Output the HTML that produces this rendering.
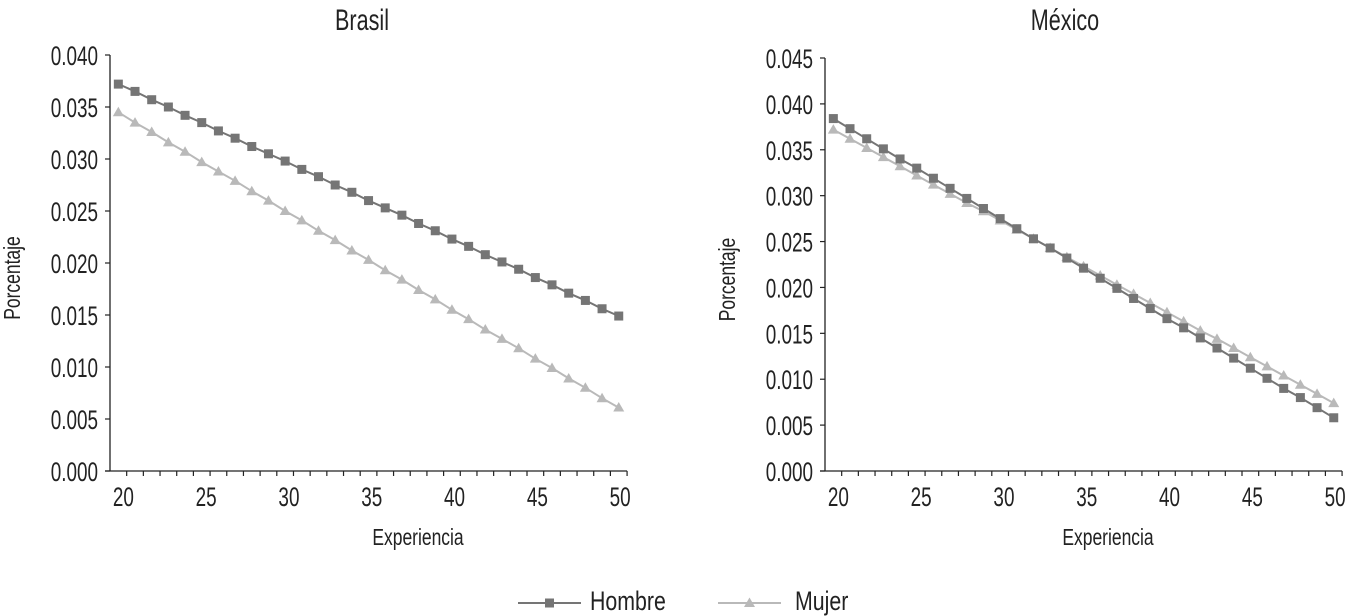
<!DOCTYPE html>
<html><head><meta charset="utf-8">
<style>
html,body{margin:0;padding:0;background:#fff;}
svg{display:block;font-family:"Liberation Sans",sans-serif;}
</style></head>
<body>
<svg id="c" width="1346" height="616" viewBox="0 0 1346 616" xmlns="http://www.w3.org/2000/svg"></svg>
<script>
const experiencia = [20,21,22,23,24,25,26,27,28,29,30,31,32,33,34,35,36,37,38,39,40,41,42,43,44,45,46,47,48,49,50];
const xTickLabels = [20,25,30,35,40,45,50];
const brasilTicks = [0,0.005,0.010,0.015,0.020,0.025,0.030,0.035,0.040];
const mexicoTicks = [0,0.005,0.010,0.015,0.020,0.025,0.030,0.035,0.040,0.045];
const brasilHombre = [0.0372,0.0365,0.0357,0.0350,0.0342,0.0335,0.0327,0.0320,0.0312,0.0305,0.0298,0.0290,0.0283,0.0275,0.0268,0.0260,0.0253,0.0246,0.0238,0.0231,0.0223,0.0216,0.0208,0.0201,0.0194,0.0186,0.0179,0.0171,0.0164,0.0156,0.0149];
const brasilMujer = [0.0345,0.0335,0.0326,0.0316,0.0307,0.0297,0.0288,0.0279,0.0269,0.0260,0.0250,0.0241,0.0231,0.0222,0.0212,0.0203,0.0193,0.0184,0.0174,0.0165,0.0155,0.0146,0.0136,0.0127,0.0118,0.0108,0.0099,0.0089,0.0080,0.0070,0.0061];
const mexicoHombre = [0.0384,0.0373,0.0362,0.0351,0.0340,0.0330,0.0319,0.0308,0.0297,0.0286,0.0275,0.0264,0.0253,0.0243,0.0232,0.0221,0.0210,0.0199,0.0188,0.0177,0.0166,0.0156,0.0145,0.0134,0.0123,0.0112,0.0101,0.0090,0.0080,0.0069,0.0058];
const mexicoMujer = [0.0372,0.0362,0.0352,0.0342,0.0332,0.0322,0.0312,0.0302,0.0292,0.0283,0.0273,0.0263,0.0253,0.0243,0.0233,0.0223,0.0213,0.0203,0.0193,0.0183,0.0173,0.0163,0.0153,0.0144,0.0134,0.0124,0.0114,0.0104,0.0094,0.0084,0.0074];

const NS="http://www.w3.org/2000/svg";
const svg=document.getElementById('c');
const DARK="#757575", LIGHT="#b9b9b9";
function el(tag,attrs,parent){const e=document.createElementNS(NS,tag);for(const k in attrs)e.setAttribute(k,attrs[k]);(parent||svg).appendChild(e);return e;}
function txt(parent,x,y,size,sx,anchor,str,rot){
  const t=el('text',{x:0,y:0,'font-size':size,'text-anchor':anchor,fill:'#222',
    transform:`translate(${x},${y})${rot?' rotate(-90)':''} scale(${sx},1)`},parent);
  t.textContent=str;
  return t;
}

function panel(opt){
  const g=el('g',{});
  
  
  const x0=opt.axisX, w=16.68, y0=471, yTop=opt.yTop, yMax=opt.yMax;
  const n=experiencia.length;
  const xAt=i=>x0+(i+0.5)*w;
  const yAt=v=>y0-(v/yMax)*(y0-yTop);
  const xr=x0+n*w;
  const t=txt(g,opt.titleX,30,30,0.72,'middle',opt.title);
  
  
  const ya=el('line',{x1:x0,y1:yTop,x2:x0,y2:y0,stroke:'#222','stroke-width':1.3},g);
  
  
  const xa=el('line',{x1:x0-5,y1:y0,x2:xr,y2:y0,stroke:'#222','stroke-width':1.3},g);
  
  
  opt.ticks.forEach(v=>{
    const y=yAt(v);
    el('line',{x1:x0-5,y1:y,x2:x0,y2:y,stroke:'#222','stroke-width':1.2},g);
    const tx=txt(g,x0-12,y+10,27,0.7,'end',v.toFixed(3));
    
    
  });
  for(let k=1;k<=n;k++){
    const x=x0+k*w;
    el('line',{x1:x,y1:y0,x2:x,y2:y0+5,stroke:'#222','stroke-width':1.2},g);
  }
  xTickLabels.forEach(v=>{
    const i=experiencia.indexOf(v);
    const tx=txt(g,xAt(i)+5-0.12*i,y0+35,27,0.7,'middle',String(v));
    
    
  });
  const xt=txt(g,opt.xTitleX,545,23,0.76,'middle','Experiencia');
  
  
  const yt=txt(g,x0-90,(yTop+y0)/2+15,23,0.76,'middle','Porcentaje',true);
  
  
  [[opt.mujer,LIGHT,'tri','mujer'],[opt.hombre,DARK,'sq','hombre']].forEach(([data,col,mk,nm])=>{
    const pts=data.map((v,i)=>xAt(i).toFixed(1)+','+yAt(v).toFixed(1)).join(' ');
    const pl=el('polyline',{points:pts,fill:'none',stroke:col,'stroke-width':2},g);
    
    
    data.forEach((v,i)=>{
      const cx=xAt(i), cy=yAt(v);
      let m;
      if(mk==='sq') m=el('rect',{x:cx-4.5,y:cy-4.5,width:9,height:9,fill:col},g);
      else m=el('polygon',{points:`${cx},${cy-5.5} ${cx-5.5},${cy+4} ${cx+5.5},${cy+4}`,fill:col},g);
      
      
    });
  });
}
panel({key:'brasil',title:'Brasil',titleX:362,xTitleX:418,axisX:110,yTop:55,yMax:0.040,ticks:brasilTicks,hombre:brasilHombre,mujer:brasilMujer});
panel({key:'mexico',title:'México',titleX:1065,xTitleX:1108,axisX:825,yTop:58,yMax:0.045,ticks:mexicoTicks,hombre:mexicoHombre,mujer:mexicoMujer});

const lg=el('g',{});


const l1=el('g',{},lg);


el('line',{x1:518,y1:603,x2:581,y2:603,stroke:DARK,'stroke-width':2},l1);
el('rect',{x:545,y:598.5,width:9,height:9,fill:DARK},l1);
txt(l1,590,610,27,0.79,'start','Hombre');
const l2=el('g',{},lg);


el('line',{x1:718,y1:603,x2:781,y2:603,stroke:LIGHT,'stroke-width':2},l2);
el('polygon',{points:'749.5,597.5 744,607 755,607',fill:LIGHT},l2);
txt(l2,795,610,27,0.79,'start','Mujer');
</script>
</body></html>
